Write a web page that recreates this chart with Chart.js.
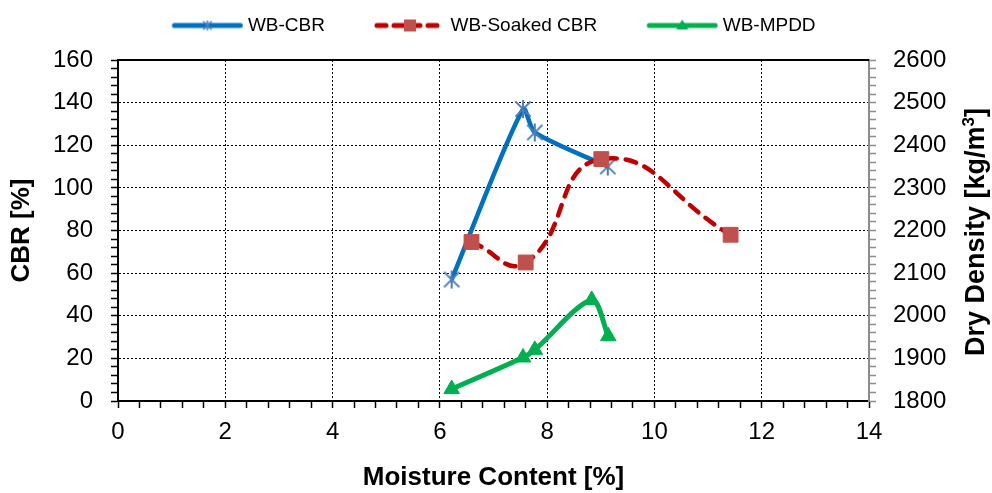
<!DOCTYPE html>
<html>
<head>
<meta charset="utf-8">
<script src="https://cdn.jsdelivr.net/npm/chart.js@4.4.1/dist/chart.umd.min.js"></script>
<style>
  html, body { margin: 0; padding: 0; background: #fff; }
</style>
</head>
<body>
<canvas id="chart" width="992" height="493"></canvas>
<script>
// Dados
const cbrMoisture = [6.22, 7.55, 7.77, 9.13];
const cbrValues = [57, 137, 126, 110];
const soakedMoisture = [6.59, 7.6, 9.01, 11.42];
const soakedValues = [74.6, 65, 113.5, 78];
const mpddMoisture = [6.22, 7.55, 7.77, 8.83, 9.14];
const mpddValues = [1828, 1902, 1920, 2037, 1952];

const seriesNames = ["WB-CBR", "WB-Soaked CBR", "WB-MPDD"];
const xMajor = [0, 2, 4, 6, 8, 10, 12, 14];
const yMajor = [0, 20, 40, 60, 80, 100, 120, 140, 160];
const y2Major = [1800, 1900, 2000, 2100, 2200, 2300, 2400, 2500, 2600];

const FONT = "'Liberation Sans', Arial, sans-serif";
Chart.defaults.font.family = FONT;
Chart.defaults.color = "#000";

function toPoints(xs, ys) {
  return xs.map((x, i) => ({ x: x, y: ys[i] }));
}

function isMajor(list, v) {
  return list.some((m) => Math.abs(m - v) < 1e-6);
}

// Marcador asterisco (estilo Excel)
function starIcon(size, lw) {
  const c = document.createElement("canvas");
  c.width = size;
  c.height = size;
  const g = c.getContext("2d");
  const m = size / 2;
  const r = size / 2 - 1;
  const d = r * 0.85;
  g.strokeStyle = "#4A7EBB";
  g.lineWidth = lw;
  g.beginPath();
  g.moveTo(m, m - r);
  g.lineTo(m, m + r);
  g.moveTo(m - d, m - d);
  g.lineTo(m + d, m + d);
  g.moveTo(m + d, m - d);
  g.lineTo(m - d, m + d);
  g.stroke();
  return c;
}

// Ícone da legenda: linha + marcador
function legendIcon(color, dash, drawMarker) {
  const c = document.createElement("canvas");
  c.width = 116;
  c.height = 20;
  const g = c.getContext("2d");
  const x0 = c.width - 72;
  const x1 = c.width;
  const cy = 10;
  g.strokeStyle = color;
  g.lineWidth = 5;
  g.lineCap = "round";
  g.setLineDash(dash);
  g.beginPath();
  g.moveTo(x0 + 3, cy);
  g.lineTo(x1 - 3, cy);
  g.stroke();
  g.setLineDash([]);
  drawMarker(g, (x0 + x1) / 2, cy);
  return c;
}

const legendIcons = [
  legendIcon("#0070C0", [], (g, x, y) => {
    g.drawImage(starIcon(12, 1.5), x - 6, y - 6);
  }),
  legendIcon("#C00000", [9, 8], (g, x, y) => {
    g.fillStyle = "#C0504D";
    g.fillRect(x - 6, y - 6, 12, 12);
  }),
  legendIcon("#00B050", [], (g, x, y) => {
    g.fillStyle = "#00B050";
    g.beginPath();
    g.moveTo(x, y - 6);
    g.lineTo(x + 6, y + 4);
    g.lineTo(x - 6, y + 4);
    g.closePath();
    g.fill();
  }),
];

// Plugin: linha superior, título do eixo direito e espaço da legenda
const extras = {
  id: "extras",
  beforeInit(chart) {
    const fitValue = chart.legend.fit;
    chart.legend.fit = function fit() {
      fitValue.bind(chart.legend)();
      this.height += 15;
    };
  },
  afterLayout(chart) {
    chart.legend.left -= 44;
  },
  beforeDatasetsDraw(chart) {
    const { ctx, chartArea } = chart;
    ctx.save();
    ctx.strokeStyle = "#000";
    ctx.lineWidth = 2;
    ctx.beginPath();
    ctx.moveTo(chartArea.left - 1, chartArea.top);
    ctx.lineTo(chartArea.right, chartArea.top);
    ctx.stroke();
    ctx.restore();
  },
  afterDraw(chart) {
    const ctx = chart.ctx;
    const main = "Dry Density [kg/m";
    ctx.save();
    ctx.translate(977, 232);
    ctx.rotate(-Math.PI / 2);
    ctx.fillStyle = "#000";
    ctx.textBaseline = "middle";
    ctx.font = "bold 27px " + FONT;
    const w1 = ctx.measureText(main).width;
    const w3 = ctx.measureText("]").width;
    ctx.font = "bold 17px " + FONT;
    const w2 = ctx.measureText("3").width;
    let x = -(w1 + w2 + w3) / 2;
    ctx.font = "bold 27px " + FONT;
    ctx.fillText(main, x, 0);
    x += w1;
    ctx.font = "bold 17px " + FONT;
    ctx.fillText("3", x, -8);
    x += w2;
    ctx.font = "bold 27px " + FONT;
    ctx.fillText("]", x, 0);
    ctx.restore();
  },
};

const tickFont = { family: FONT, size: 24 };
const titleFont = { family: FONT, size: 26, weight: "bold" };

new Chart(document.getElementById("chart"), {
  type: "line",
  data: {
    datasets: [
      {
        label: seriesNames[0],
        data: toPoints(cbrMoisture, cbrValues),
        yAxisID: "y",
        borderColor: "#0070C0",
        borderWidth: 4.5,
        tension: 0.25,
        pointStyle: starIcon(20, 2),
        pointRadius: 9,
        order: 3,
      },
      {
        label: seriesNames[1],
        data: toPoints(soakedMoisture, soakedValues),
        yAxisID: "y",
        borderColor: "#C00000",
        borderWidth: 4.5,
        borderDash: [11, 9],
        borderCapStyle: "round",
        tension: 0.5,
        pointStyle: "rect",
        pointRadius: 10.5,
        pointBackgroundColor: "#C0504D",
        pointBorderColor: "#C0504D",
        pointBorderWidth: 1,
        order: 2,
      },
      {
        label: seriesNames[2],
        data: toPoints(mpddMoisture, mpddValues),
        yAxisID: "y2",
        borderColor: "#00B050",
        borderWidth: 5,
        tension: 0.3,
        pointStyle: "triangle",
        pointRadius: 9,
        pointBackgroundColor: "#00B050",
        pointBorderColor: "#00B050",
        pointBorderWidth: 1,
        order: 1,
      },
    ],
  },
  options: {
    responsive: false,
    animation: false,
    layout: { padding: { top: 6, left: 0, right: 0, bottom: 0 } },
    plugins: {
      tooltip: { enabled: false },
      legend: {
        position: "top",
        labels: {
          usePointStyle: true,
          pointStyleWidth: 106,
          padding: 10,
          color: "#000",
          font: { family: FONT, size: 19 },
          generateLabels: (chart) =>
            chart.data.datasets.map((ds, i) => ({
              text: ds.label,
              pointStyle: legendIcons[i],
              datasetIndex: i,
              hidden: false,
              lineWidth: 0,
              fontColor: "#000",
            })),
        },
      },
    },
    scales: {
      x: {
        type: "linear",
        min: 0,
        max: 14,
        afterFit: (s) => {
          s.height = 92;
        },
        border: { color: "#000", width: 2, dash: [2, 2] },
        grid: {
          color: (c) =>
            c.tick && isMajor(xMajor, c.tick.value) && c.tick.value > 0 && c.tick.value < 14
              ? "#000"
              : "rgba(0,0,0,0)",
          lineWidth: 1,
          borderDash: [2, 2],
          tickLength: 7,
          tickColor: "#000",
          tickWidth: 1.5,
          tickBorderDash: [],
        },
        ticks: {
          stepSize: 0.4,
          autoSkip: false,
          maxRotation: 0,
          padding: 10,
          font: tickFont,
          color: "#000",
          callback: (v) => (isMajor(xMajor, v) ? String(Math.round(v)) : ""),
        },
        title: {
          display: true,
          text: "Moisture Content [%]",
          font: titleFont,
          color: "#000",
          padding: { top: 0, bottom: 0 },
        },
      },
      y: {
        position: "left",
        min: 0,
        max: 160,
        afterFit: (s) => {
          s.width = 118;
        },
        border: { color: "#000", width: 2, dash: [2, 2] },
        grid: {
          color: (c) =>
            c.tick && isMajor(yMajor, c.tick.value) && c.tick.value > 0 && c.tick.value < 160
              ? "#000"
              : "rgba(0,0,0,0)",
          lineWidth: 1,
          borderDash: [2, 2],
          tickLength: 7,
          tickColor: "#000",
          tickWidth: 1.5,
          tickBorderDash: [],
        },
        ticks: {
          stepSize: 4,
          autoSkip: false,
          padding: 18,
          font: tickFont,
          color: "#000",
          callback: (v) => (isMajor(yMajor, v) ? String(v) : ""),
        },
        title: {
          display: true,
          text: "CBR [%]",
          font: titleFont,
          color: "#000",
          padding: { top: 6, bottom: 6 },
        },
      },
      y2: {
        position: "right",
        min: 1800,
        max: 2600,
        afterFit: (s) => {
          s.width = 123;
        },
        border: { color: "#8C8C8C", width: 2 },
        grid: {
          drawOnChartArea: false,
          tickLength: 7,
          tickColor: "#8C8C8C",
          tickWidth: 1.5,
        },
        ticks: {
          stepSize: 20,
          autoSkip: false,
          padding: 17,
          font: tickFont,
          color: "#000",
          callback: (v) => (isMajor(y2Major, v) ? String(v) : ""),
        },
      },
    },
  },
  plugins: [extras],
});
</script>
</body>
</html>
